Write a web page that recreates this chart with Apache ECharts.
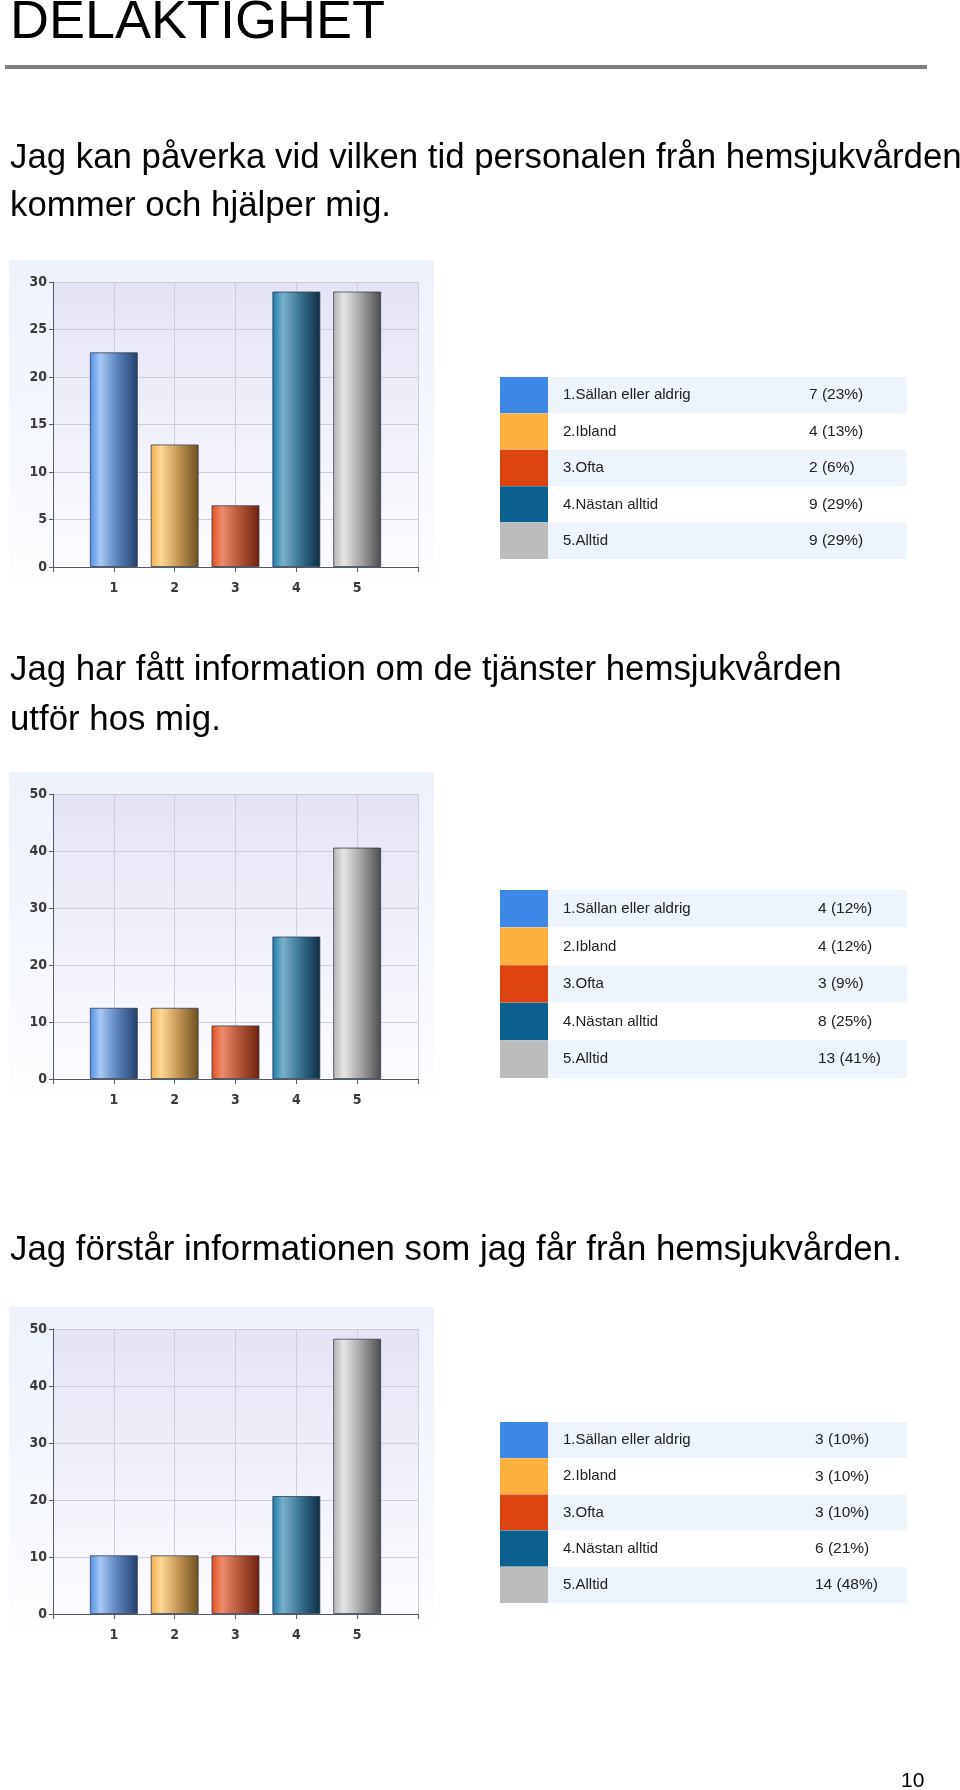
<!DOCTYPE html>
<html>
<head>
<meta charset="utf-8">
<script src="https://cdn.jsdelivr.net/npm/echarts@6/dist/echarts.min.js"></script>
<style>
html,body{margin:0;padding:0;background:#fff;}
#main{width:960px;height:1790px;}
</style>
</head>
<body>
<div id="main"></div>
<script>
// ---------- data ----------
const pageTitle = 'DELAKTIGHET';
const pageNumber = '10';
const categories = ['1', '2', '3', '4', '5'];
const categoryPositions = [1, 2, 3, 4, 5];
const answerLabels = ['1.Sällan eller aldrig', '2.Ibland', '3.Ofta', '4.Nästan alltid', '5.Alltid'];

const q1Title = ['Jag kan påverka vid vilken tid personalen från hemsjukvården', 'kommer och hjälper mig.'];
const q1Bars = [22.6, 12.9, 6.5, 29, 29];
const q1Counts = [7, 4, 2, 9, 9];
const q1Percent = [23, 13, 6, 29, 29];
const q1YMax = 30, q1YStep = 5;

const q2Title = ['Jag har fått information om de tjänster hemsjukvården', 'utför hos mig.'];
const q2Bars = [12.5, 12.5, 9.4, 25, 40.6];
const q2Counts = [4, 4, 3, 8, 13];
const q2Percent = [12, 12, 9, 25, 41];
const q2YMax = 50, q2YStep = 10;

const q3Title = ['Jag förstår informationen som jag får från hemsjukvården.'];
const q3Bars = [10.3, 10.3, 10.3, 20.7, 48.3];
const q3Counts = [3, 3, 3, 6, 14];
const q3Percent = [10, 10, 10, 21, 48];
const q3YMax = 50, q3YStep = 10;

// ---------- styles ----------
const swatchColors = ['#3d87e6', '#fbb040', '#dd4410', '#0b6090', '#bcbcbc'];
const barGradients = [
  ['#4f8fe8', '#a9c9f6', '#5f86c0', '#22406c'],
  ['#f3ae4e', '#fdd894', '#c89a58', '#6e5020'],
  ['#df4f1c', '#ee8c6c', '#b85a3c', '#6e200c'],
  ['#187aa8', '#79b0cb', '#3c7896', '#0c2c44'],
  ['#b4b4b4', '#e6e6e6', '#a8a8a8', '#4c4c4c']
];
const rowFills = ['#edf4fc', '#ffffff'];
const FONT = '"Liberation Sans", Arial, sans-serif';
const AXFONT = '"DejaVu Sans Condensed", "Liberation Sans", sans-serif';

// ---------- layout ----------
const blocks = [
  {title: q1Title, titleBase: 170, lineGap: 48, bars: q1Bars, counts: q1Counts, pct: q1Percent, yMax: q1YMax, yStep: q1YStep,
   plotTop: 282, tableTop: 377, tableH: 182, valueX: 309},
  {title: q2Title, titleBase: 682, lineGap: 50, bars: q2Bars, counts: q2Counts, pct: q2Percent, yMax: q2YMax, yStep: q2YStep,
   plotTop: 794, tableTop: 890, tableH: 188, valueX: 318},
  {title: q3Title, titleBase: 1262, lineGap: 50, bars: q3Bars, counts: q3Counts, pct: q3Percent, yMax: q3YMax, yStep: q3YStep,
   plotTop: 1329, tableTop: 1422, tableH: 181, valueX: 315}
];
const PLOT_LEFT = 53, PLOT_W = 365, PLOT_H = 285;
const TABLE_LEFT = 500, TABLE_W = 407;
const HEAD_FS = 34.8;

function textEl(str, x, baseline, fs, extra) {
  return Object.assign({
    type: 'text', x: x, y: baseline - 0.3465 * fs,
    style: {text: str, font: fs + 'px ' + FONT, fill: '#000', textAlign: 'left', textVerticalAlign: 'middle',
            align: 'left', verticalAlign: 'middle'}
  }, extra || {});
}

const graphics = [
  textEl(pageTitle, 10, 42, 54),
  {type: 'rect', shape: {x: 5, y: 65, width: 922, height: 4}, style: {fill: '#7f7f7f'}},
  textEl(pageNumber, 901, 1788, 21)
];

const grids = [], xAxes = [], yAxes = [], series = [];

blocks.forEach((b, k) => {
  b.title.forEach((line, li) => graphics.push(textEl(line, 10, b.titleBase + li * b.lineGap, HEAD_FS)));
  // chart backdrop
  graphics.push({
    type: 'rect', z: -10,
    shape: {x: 9, y: b.plotTop - 22, width: 425, height: 335},
    style: {fill: {type: 'linear', x: 0, y: 0, x2: 0, y2: 1,
      colorStops: [{offset: 0, color: '#edf2fb'}, {offset: 0.75, color: '#f8fafe'}, {offset: 1, color: '#ffffff'}]}}
  });

  // bar chart grid
  const gi = grids.length;
  grids.push({
    left: PLOT_LEFT, top: b.plotTop, width: PLOT_W, height: PLOT_H, show: true, borderWidth: 0,
    backgroundColor: {type: 'linear', x: 0, y: 0, x2: 0, y2: 1,
      colorStops: [{offset: 0, color: '#e4e4f6'}, {offset: 1, color: '#fcfcff'}]}
  });
  xAxes.push({
    gridIndex: gi, type: 'value', min: 0, max: 6, interval: 1,
    axisLine: {show: true, onZero: false, lineStyle: {color: '#555a66', width: 1}},
    axisTick: {show: true, length: 5, lineStyle: {color: '#555a66'}},
    splitLine: {show: true, lineStyle: {color: '#cdcddc', width: 1}},
    axisLabel: {margin: 14, color: '#3a3a3a', fontFamily: AXFONT, fontSize: 14, fontWeight: 'bold',
      formatter: v => (v >= 1 && v <= 5) ? categories[v - 1] : ''}
  });
  yAxes.push({
    gridIndex: gi, type: 'value', min: 0, max: b.yMax, interval: b.yStep,
    axisLine: {show: true, lineStyle: {color: '#555a66', width: 1}},
    axisTick: {show: true, length: 4, lineStyle: {color: '#555a66'}},
    splitLine: {show: true, lineStyle: {color: '#cdcddc', width: 1}},
    axisLabel: {margin: 6, color: '#3a3a3a', fontFamily: AXFONT, fontSize: 14, fontWeight: 'bold'}
  });
  series.push({
    type: 'bar', xAxisIndex: gi, yAxisIndex: gi, barWidth: 48,
    data: b.bars.map((v, i) => ({
      value: [categoryPositions[i], v],
      itemStyle: {
        color: {type: 'linear', x: 0, y: 0, x2: 1, y2: 0, colorStops: [
          {offset: 0, color: barGradients[i][0]}, {offset: 0.22, color: barGradients[i][1]},
          {offset: 0.55, color: barGradients[i][2]}, {offset: 1, color: barGradients[i][3]}]},
        borderColor: 'rgba(45,55,75,0.75)', borderWidth: 1
      }
    }))
  });

  // legend table grid
  const ti = grids.length;
  grids.push({left: TABLE_LEFT, top: b.tableTop, width: TABLE_W, height: b.tableH});
  xAxes.push({gridIndex: ti, type: 'value', min: 0, max: 1, show: false});
  yAxes.push({gridIndex: ti, type: 'category', data: answerLabels, inverse: true, show: false});
  series.push({
    type: 'custom', xAxisIndex: ti, yAxisIndex: ti,
    encode: {x: 0, y: 1},
    data: answerLabels.map((lab, i) => [0, i]),
    renderItem: (params, api) => {
      const i = api.value(1);
      const c = api.coord([0, i]);
      const right = api.coord([1, i])[0];
      const h = api.size([0, 1])[1];
      const top = c[1] - h / 2;
      return {
        type: 'group',
        children: [
          {type: 'rect', shape: {x: c[0], y: top, width: right - c[0], height: h}, style: {fill: rowFills[i % 2]}},
          {type: 'rect', shape: {x: c[0], y: top, width: 48, height: h}, style: {fill: swatchColors[i]}},
          {type: 'text', x: c[0] + 63, y: c[1],
           style: {text: answerLabels[i], font: '15px ' + FONT, fill: '#222', verticalAlign: 'middle', textVerticalAlign: 'middle'}},
          {type: 'text', x: c[0] + b.valueX, y: c[1],
           style: {text: b.counts[i] + ' (' + b.pct[i] + '%)', font: '15.5px ' + FONT, fill: '#222', verticalAlign: 'middle', textVerticalAlign: 'middle'}}
        ]
      };
    }
  });
});

const chart = echarts.init(document.getElementById('main'), null, {renderer: 'canvas'});
chart.setOption({
  animation: false,
  backgroundColor: '#ffffff',
  graphic: {elements: graphics},
  grid: grids,
  xAxis: xAxes,
  yAxis: yAxes,
  series: series
});
</script>
</body>
</html>
